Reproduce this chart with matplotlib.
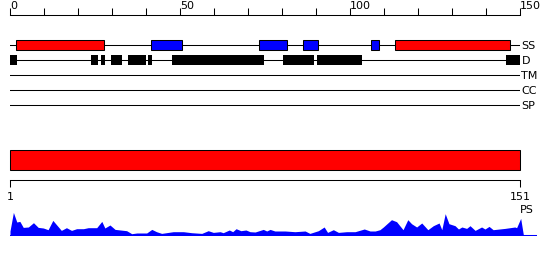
import matplotlib
matplotlib.use("Agg")
import matplotlib.pyplot as plt
from matplotlib.patches import Rectangle
from matplotlib.ticker import MultipleLocator

# tracks: row labels and features (start, end) in residue numbers
track_names = ["SS", "D", "TM", "CC", "SP"]
helices = [(1.7, 27.6), (113.2, 147.0)]
strands = [(41.4, 50.6), (73.2, 81.4), (86.2, 90.5), (106.2, 108.4)]
disorder = [(0.0, 2.0), (23.8, 25.8), (26.8, 27.9), (29.7, 32.8), (34.7, 39.9),
            (40.6, 41.8), (47.6, 74.7), (80.3, 89.3), (90.3, 103.5), (145.9, 150.2)]
seq_len = 150

# domain bar
domains = [(1, 151)]
domain_ticks = [1, 151]

# profile (residue position, score)
ps_pos = [1.0, 2.0, 3.0, 3.9, 4.9, 6.4, 7.9, 9.3, 10.8, 12.2, 13.6, 15.1, 16.1, 17.6,
          19.1, 20.6, 22.6, 24.0, 26.5, 28.0, 28.9, 30.4, 31.9, 35.3, 36.8, 38.3, 41.2,
          42.7, 44.1, 45.6, 49.0, 52.0, 54.4, 57.4, 59.3, 60.8, 62.8, 63.7, 65.5, 66.5,
          67.5, 68.9, 70.4, 71.6, 73.1, 75.5, 76.5, 77.5, 78.9, 81.9, 84.8, 87.8, 89.2,
          91.7, 93.4, 94.4, 96.1, 97.6, 100.0, 102.5, 105.2, 106.9, 108.4, 109.8, 110.8,
          113.2, 114.7, 116.6, 118.0, 119.1, 120.6, 122.1, 123.9, 125.5, 127.2, 128.0,
          129.0, 130.1, 131.9, 132.9, 133.9, 135.3, 136.3, 137.8, 139.7, 140.7, 141.9,
          143.1, 146.6, 149.5, 150.0, 151.2, 152.0]
ps_val = [4, 22.6, 13, 13.6, 7.6, 8, 12.3, 7.6, 7, 5.3, 14.6, 8.6, 4.6, 7.3,
          4.6, 6.3, 6.3, 7.3, 7.3, 13.6, 7, 10, 5.6, 4.3, 1.3, 2, 2,
          5.6, 3.3, 1.6, 3.3, 3.3, 2.3, 1.6, 4.3, 2.6, 3.3, 2.3, 5, 3.3,
          6.3, 4.3, 5, 3.3, 3, 5.6, 4, 5.6, 4, 4, 3.3, 4, 1.6,
          4.3, 8, 2.6, 5.3, 2.6, 3.3, 3.3, 6, 4, 4, 5.3, 8,
          15.3, 13.3, 5.3, 15.3, 11.3, 8, 12, 5.3, 9.3, 12, 5.3,
          21.3, 11.3, 9.3, 6, 8, 6.6, 9.3, 4.6, 8, 6, 8.6,
          5.3, 6.6, 8, 7.3, 16.6, 0]

W, H = 550, 260
lw = 0.75
fs = 8

fig = plt.figure(figsize=(5.5, 2.6), dpi=100)

# --- feature tracks ---
ax = fig.add_axes([10 / W, 1 - 110 / H, 510 / W, 95 / H])
ax.set_xlim(0, seq_len)
ax.set_ylim(4 + 5 / 15, -2)
for i in range(len(track_names)):
    ax.plot([0, seq_len], [i, i], color="black", lw=lw, zorder=1)
for s, e in helices:
    ax.add_patch(Rectangle((s, -0.33), e - s, 0.66, facecolor="#ff0000",
                           edgecolor="black", lw=lw, zorder=2))
for s, e in strands:
    ax.add_patch(Rectangle((s, -0.33), e - s, 0.66, facecolor="#0000ff",
                           edgecolor="black", lw=lw, zorder=2))
for s, e in disorder:
    ax.add_patch(Rectangle((s, 1 - 0.35), e - s, 0.7, facecolor="black",
                           edgecolor="black", lw=0, zorder=2))
for sp in ["bottom", "left", "right"]:
    ax.spines[sp].set_visible(False)
ax.spines["top"].set_linewidth(lw)
ax.xaxis.tick_top()
ax.xaxis.set_major_locator(MultipleLocator(50))
ax.xaxis.set_minor_locator(MultipleLocator(10))
ax.tick_params(axis="x", which="both", length=5, width=lw, direction="out",
               labelsize=fs, pad=-2, colors="black")
plt.setp(ax.get_xticklabels(), ha="left")
ax.yaxis.tick_right()
ax.set_yticks(range(len(track_names)))
ax.set_yticklabels(track_names)
ax.tick_params(axis="y", length=0, pad=1, labelsize=fs)

# --- domain bar ---
ax2 = fig.add_axes([10 / W, 1 - 180 / H, 510 / W, 32 / H])
ax2.set_xlim(1, 151)
ax2.set_ylim(0, 3.2)
for s, e in domains:
    ax2.add_patch(Rectangle((s, 1), e - s, 2, facecolor="#ff0000",
                            edgecolor="black", lw=lw, clip_on=False))
for sp in ["top", "left", "right"]:
    ax2.spines[sp].set_visible(False)
ax2.spines["bottom"].set_linewidth(lw)
ax2.set_yticks([])
ax2.set_xticks(domain_ticks)
ax2.tick_params(axis="x", length=5, width=lw, pad=3.5, labelsize=fs)

# --- profile ---
ax3 = fig.add_axes([10 / W, 1 - 236 / H, 527 / W, 26 / H])
ax3.set_xlim(1, 1 + 527 / 3.4)
ax3.set_ylim(-1, 25)
ax3.fill_between(ps_pos, 0, ps_val, color="#0000ff", lw=0)
ax3.axhline(0, color="#0000ff", lw=lw)
ax3.text(151, 25, "PS", ha="left", va="center", fontsize=fs)
ax3.axis("off")

fig.savefig("out.png", dpi=100)
